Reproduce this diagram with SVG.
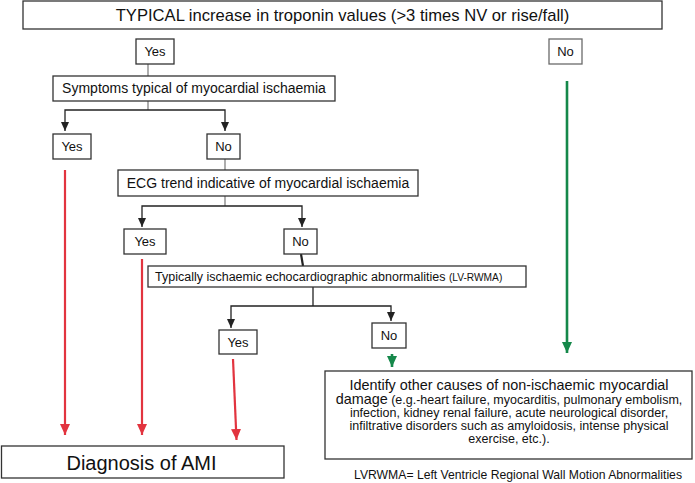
<svg xmlns="http://www.w3.org/2000/svg" width="695" height="483" viewBox="0 0 695 483">
<defs>
<style>
.box{fill:#fff;stroke:#333;stroke-width:1.3}
.lbox{fill:#fff;stroke:#6a6a6a;stroke-width:1.3}
.t{font-family:"Liberation Sans",Arial,Helvetica,sans-serif;fill:#111}
.ln{fill:none;stroke:#777;stroke-width:1.2}
.blk{fill:none;stroke:#222;stroke-width:1.3}
.red{fill:none;stroke:#e2343f;stroke-width:2.2}
.grn{fill:none;stroke:#15884a;stroke-width:2.6}
</style>
<marker id="ab" markerUnits="userSpaceOnUse" markerWidth="9" markerHeight="8" refX="9" refY="4" viewBox="0 0 9 8" orient="auto-start-reverse">
<path d="M0,0 L9,4 L0,8 Z" fill="#222"/>
</marker>
<marker id="ar" markerUnits="userSpaceOnUse" markerWidth="11" markerHeight="10" refX="11" refY="5" viewBox="0 0 11 10" orient="auto">
<path d="M0,0 L11,5 L0,10 Z" fill="#e2343f"/>
</marker>
<marker id="ag" markerUnits="userSpaceOnUse" markerWidth="11" markerHeight="10" refX="11" refY="5" viewBox="0 0 11 10" orient="auto">
<path d="M0,0 L11,5 L0,10 Z" fill="#15884a"/>
</marker>
</defs>
<rect width="695" height="483" fill="#fff"/>

<g id="connectors">
<line class="ln" x1="148" y1="64" x2="148" y2="76"/>
<line class="ln" x1="148" y1="101" x2="148" y2="110"/>
<polyline class="blk" points="65,131 65,110 225,110 225,131" marker-start="url(#ab)" marker-end="url(#ab)"/>
<line class="ln" x1="225" y1="159" x2="225" y2="170"/>
<line class="ln" x1="225" y1="196" x2="225" y2="206"/>
<polyline class="blk" points="142,227 142,206 302,206 302,227" marker-start="url(#ab)" marker-end="url(#ab)"/>
<line x1="301" y1="254" x2="303" y2="266" stroke="#222" stroke-width="2.2"/>
<line class="blk" x1="313" y1="287" x2="313" y2="306"/>
<polyline class="blk" points="231,328 231,306 391,306 391,321" marker-start="url(#ab)" marker-end="url(#ab)"/>
<line class="red" x1="65" y1="170" x2="65" y2="435" marker-end="url(#ar)"/>
<line class="red" x1="142" y1="259" x2="142" y2="435" marker-end="url(#ar)"/>
<line class="red" x1="233" y1="359" x2="236.5" y2="440" marker-end="url(#ar)"/>
<line class="grn" x1="567" y1="81" x2="567" y2="353" marker-end="url(#ag)"/>
<line class="grn" x1="392" y1="354" x2="392" y2="367" marker-end="url(#ag)"/>
</g>

<g id="troponin">
<rect class="box" x="23" y="1" width="639" height="28"/>
<text class="t" x="342.5" y="21" font-size="16.6" text-anchor="middle">TYPICAL increase in troponin values (&gt;3 times NV or rise/fall)</text>
</g>
<g id="yes1">
<rect class="box" x="136" y="39" width="38" height="25"/>
<text class="t" x="155" y="56" font-size="13" text-anchor="middle">Yes</text>
</g>
<g id="no1">
<rect class="lbox" x="549" y="39" width="33" height="25"/>
<text class="t" x="565.5" y="56" font-size="13" text-anchor="middle">No</text>
</g>
<g id="symptoms">
<rect class="box" x="53" y="76" width="282" height="25"/>
<text class="t" x="194" y="93" font-size="14" text-anchor="middle">Symptoms typical of myocardial ischaemia</text>
</g>
<g id="yes2">
<rect class="box" x="53" y="134" width="38" height="25"/>
<text class="t" x="72" y="151" font-size="13" text-anchor="middle">Yes</text>
</g>
<g id="no2">
<rect class="box" x="207" y="134" width="33" height="25"/>
<text class="t" x="223.5" y="151" font-size="13" text-anchor="middle">No</text>
</g>
<g id="ecg">
<rect class="box" x="118" y="170" width="300" height="26"/>
<text class="t" x="268" y="188" font-size="14" text-anchor="middle">ECG trend indicative of myocardial ischaemia</text>
</g>
<g id="yes3">
<rect class="box" x="124" y="229" width="42" height="25"/>
<text class="t" x="145" y="246" font-size="13" text-anchor="middle">Yes</text>
</g>
<g id="no3">
<rect class="box" x="284" y="229" width="33" height="25"/>
<text class="t" x="300.5" y="246" font-size="13" text-anchor="middle">No</text>
</g>
<g id="echo">
<rect class="box" x="148" y="266" width="378" height="21"/>
<text class="t" x="155" y="281" font-size="12.5">Typically ischaemic echocardiographic abnormalities <tspan font-size="10.2">(LV-RWMA)</tspan></text>
</g>
<g id="yes4">
<rect class="box" x="219" y="330" width="38" height="24"/>
<text class="t" x="238" y="347" font-size="13" text-anchor="middle">Yes</text>
</g>
<g id="no4">
<rect class="box" x="372" y="323" width="34" height="25"/>
<text class="t" x="389" y="340" font-size="13" text-anchor="middle">No</text>
</g>
<g id="other">
<rect class="box" x="325" y="371" width="367" height="88"/>
<text class="t" x="509" y="390" font-size="14.4" text-anchor="middle">Identify other causes of non-ischaemic myocardial</text>
<text class="t" x="509" y="404" font-size="12.5" text-anchor="middle"><tspan font-size="14.4">damage</tspan> (e.g.-heart failure, myocarditis, pulmonary embolism,</text>
<text class="t" x="509" y="417" font-size="12.5" text-anchor="middle">infection, kidney renal failure, acute neurological disorder,</text>
<text class="t" x="509" y="430" font-size="12.5" text-anchor="middle">infiltrative disorders such as amyloidosis, intense physical</text>
<text class="t" x="509" y="443" font-size="12.5" text-anchor="middle">exercise, etc.).</text>
</g>
<g id="diagnosis">
<rect class="box" x="1.5" y="446" width="282.5" height="32"/>
<text class="t" x="141.5" y="470" font-size="20" text-anchor="middle">Diagnosis of AMI</text>
</g>
<g id="footnote">
<text class="t" x="518" y="479" font-size="12.2" text-anchor="middle">LVRWMA= Left Ventricle Regional Wall Motion Abnormalities</text>
</g>
</svg>
